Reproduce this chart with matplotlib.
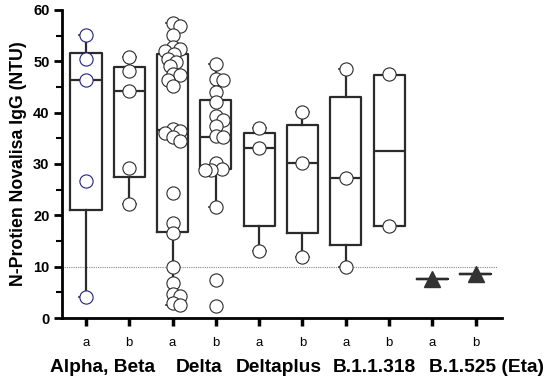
import numpy as np
import matplotlib
matplotlib.use("Agg")
import matplotlib.pyplot as plt

plt.rcParams['font.family'] = ['Liberation Sans', 'DejaVu Sans']

# ---------------- data ----------------
tick_labels = ["a", "b", "a", "b", "a", "b", "a", "b", "a", "b"]
group_labels = ["Alpha, Beta", "Delta", "Deltaplus", "B.1.1.318", "B.1.525 (Eta)"]

alpha_a = [55.1, 50.4, 46.4, 26.7, 4.1]
alpha_b = [50.8, 48.2, 44.3, 29.2, 22.3]
delta_a = [57.5, 56.8, 55.2, 52.8, 52.3, 52.0, 51.5, 50.5, 49.9, 49.0, 47.6,
           47.3, 46.4, 45.2, 36.8, 36.4, 36.0, 35.3, 34.5, 24.4, 18.6, 16.5,
           10.0, 6.9, 4.6, 4.2, 2.9, 2.6]
delta_b = [49.4, 46.5, 46.3, 44.1, 42.1, 39.4, 38.6, 37.4, 35.4, 35.2, 30.1,
           29.0, 28.9, 28.9, 21.6, 7.4, 2.3]
deltaplus_a = [37.1, 33.2, 13.1]
deltaplus_b = [40.2, 30.1, 11.9]
b11318_a = [48.5, 27.2, 10.0]
b11318_b = [47.5, 18.0]
eta_a = [7.5]
eta_b = [8.5]

circle_groups = [alpha_a, alpha_b, delta_a, delta_b, deltaplus_a,
                 deltaplus_b, b11318_a, b11318_b]
triangle_groups = [eta_a, eta_b]

# box statistics: q1, median, q3, whisker low, whisker high
box_q1 = [21.0, 27.5, 16.8, 29.0, 18.0, 16.5, 14.2, 17.9, 7.5, 8.5]
box_med = [46.4, 44.2, 36.6, 35.2, 33.1, 30.1, 27.2, 32.6, 7.5, 8.5]
box_q3 = [51.6, 48.8, 51.4, 42.5, 36.0, 37.6, 43.1, 47.3, 7.5, 8.5]
box_wlo = [4.1, 22.3, 2.6, 21.6, 13.1, 11.9, 10.0, 17.9, 7.5, 8.5]
box_whi = [55.1, 50.8, 57.5, 49.4, 37.1, 40.2, 48.5, 47.3, 7.5, 8.5]
threshold = 10

# ---------------- figure ----------------
fig = plt.figure(figsize=(5.5, 3.83), dpi=100)
ax = fig.add_axes([0.1127, 0.1697, 0.80, 0.8043])
xmin, xmax = 0.446, 10.607
ax.set_xlim(xmin, xmax)
ax.set_ylim(0, 60)

dark = "#2b2b2b"
positions = np.arange(1, 11)

stats = []
for i in range(10):
    stats.append(dict(med=box_med[i], q1=box_q1[i], q3=box_q3[i],
                      whislo=box_wlo[i], whishi=box_whi[i], fliers=[]))
ax.bxp(stats, positions=positions, widths=0.72, showfliers=False,
       capwidths=0.3,
       boxprops=dict(color=dark, linewidth=1.6),
       medianprops=dict(color=dark, linewidth=1.6),
       whiskerprops=dict(color=dark, linewidth=1.6),
       capprops=dict(color=dark, linewidth=1.2),
       zorder=2)

# threshold line
ax.plot([xmin, 10.49], [threshold, threshold], color="#888888",
        linestyle=(0, (1, 1)), linewidth=0.8, zorder=1)

# compact swarm placement in pixel space (overlap allowed)
ax_w_px = 0.80 * 550
ax_h_px = 0.8043 * 383
px_x = ax_w_px / (xmax - xmin)
px_y = ax_h_px / 60.0
diam = 7.5
max_off = 11.0


def swarm(vals):
    order = np.argsort(vals)[::-1]
    placed = []
    offs = np.zeros(len(vals))
    for idx in order:
        y = vals[idx] * px_y
        cands = [0.0]
        k = 1
        while k * 1.5 <= max_off:
            cands += [k * 1.5, -k * 1.5]
            k += 1
        best_c, best_d = 0.0, -1
        for c in cands:
            dmin = min([np.hypot(px - c, py - y) for (px, py) in placed],
                       default=1e9)
            if dmin >= diam:
                best_c = c
                break
            if dmin > best_d:
                best_d, best_c = dmin, c
        placed.append((best_c, y))
        offs[idx] = best_c / px_x
    return offs


for i, vals in enumerate(circle_groups):
    vals = np.array(vals, dtype=float)
    offs = swarm(vals)
    edge = "#1f1f8f" if i == 0 else dark
    ax.plot(positions[i] + offs, vals, linestyle="none", marker="o",
            markersize=9.5, markerfacecolor="white", markeredgecolor=edge,
            markeredgewidth=0.8, zorder=3)

for j, vals in enumerate(triangle_groups):
    ax.plot([positions[8 + j]] * len(vals), vals, linestyle="none",
            marker="^", markersize=11, markerfacecolor="#333333",
            markeredgecolor="#333333", zorder=3)

# axes styling
for s in ["top", "right"]:
    ax.spines[s].set_visible(False)
ax.spines["left"].set_linewidth(2)
ax.spines["bottom"].set_linewidth(2)
ax.spines["left"].set_color("black")
ax.spines["bottom"].set_color("black")

ax.set_yticks(np.arange(0, 61, 10))
ax.set_yticks(np.arange(5, 60, 10), minor=True)
ax.tick_params(axis="y", which="major", length=6, width=2, labelsize=10.5,
               direction="out", pad=3)
ax.tick_params(axis="y", which="minor", length=4, width=1.5, direction="out")
for lab in ax.get_yticklabels():
    lab.set_fontweight("bold")

ax.set_xticks(positions)
ax.set_xticklabels(tick_labels, fontsize=9.5)
ax.tick_params(axis="x", which="major", length=6, width=2.5, direction="out",
               pad=8)

ax.set_ylabel("N-Protien Novalisa IgG (NTU)", fontsize=12.7,
              fontweight="bold", labelpad=4)

label_x = [1.38, 3.61, 5.46, 7.66, 10.24]
for lx, txt in zip(label_x, group_labels):
    ax.text(lx, -0.16, txt, transform=ax.get_xaxis_transform(),
            ha="center", va="center", fontsize=13.8, fontweight="bold")

fig.savefig("out.png", dpi=100)
